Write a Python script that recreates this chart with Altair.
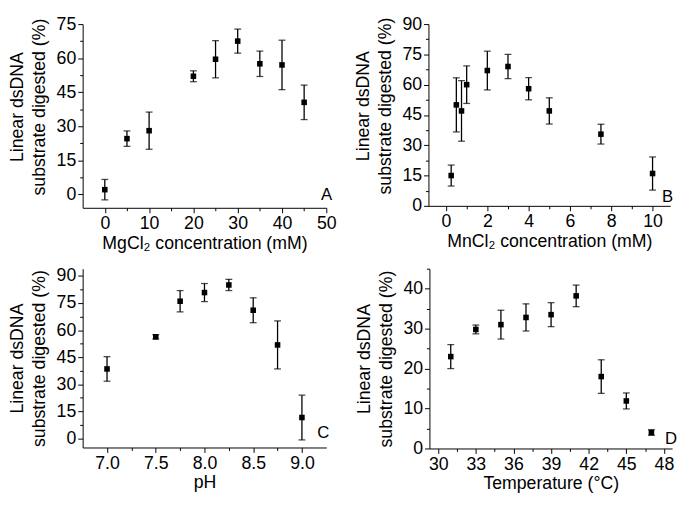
import altair as alt
import pandas as pd

FONT = "Liberation Sans"

# Panel A: MgCl2
a_x = [0, 5, 10, 20, 25, 30, 35, 40, 45]
a_y = [2, 24.5, 28, 52, 59.5, 67.5, 57.5, 57, 40.5]
a_e = [4.5, 3.4, 8.2, 2.4, 8.2, 5.3, 5.6, 10.9, 7.6]

# Panel B: MnCl2
b_x = [0.25, 0.5, 0.75, 1, 2, 3, 4, 5, 7.5, 10]
b_y = [15, 50, 47, 60, 67, 69, 58, 47, 35.5, 16]
b_e = [5.2, 13.4, 15, 9.3, 9.6, 6, 5.5, 6.5, 4.9, 8.2]

# Panel C: pH
c_x = [7.0, 7.5, 7.75, 8.0, 8.25, 8.5, 8.75, 9.0]
c_y = [38.5, 56.3, 76, 80.8, 85, 71, 51.8, 11.6]
c_e = [6.8, 1.2, 5.9, 5, 3.1, 6.9, 13.3, 12.4]

# Panel D: Temperature
d_x = [31, 33, 35, 37, 39, 41, 43, 45, 47]
d_y = [23, 29.8, 31, 32.8, 33.5, 38.2, 18, 11.9, 4]
d_e = [3, 1.1, 3.6, 3.4, 3, 2.7, 4.2, 2, 0.7]

Y_TITLE = ["Linear dsDNA", "substrate digested (%)"]


def panel(xs, ys, es, xdom, ydom, xmaj, xmin, ymaj, ymin, xtitle, letter,
          w, h, lx, ly, xfmt="d", title_y=None):
    df = pd.DataFrame({"x": xs, "y": ys,
                       "lo": [y - e for y, e in zip(ys, es)],
                       "hi": [y + e for y, e in zip(ys, es)]})
    xvals = sorted(xmaj + xmin)
    yvals = sorted(ymaj + ymin)
    xmaj_test = " || ".join(f"abs(datum.value - {v}) < 1e-6" for v in xmaj)
    ymaj_test = " || ".join(f"abs(datum.value - {v}) < 1e-6" for v in ymaj)
    xaxis = alt.Axis(values=xvals, format=xfmt, title=xtitle,
                     labelExpr=f"({xmaj_test}) ? datum.label : ''",
                     tickSize={"condition": {"test": xmaj_test, "value": 5}, "value": 3},
                     labelOverlap=False, labelFlush=False, titlePadding=2)
    ykw = {}
    if title_y is not None:
        ykw["titleY"] = title_y
    yaxis = alt.Axis(values=yvals, format="d", title=Y_TITLE,
                     labelExpr=f"({ymaj_test}) ? datum.label : ''",
                     tickSize={"condition": {"test": ymaj_test, "value": 5}, "value": 3},
                     labelOverlap=False, labelFlush=False, titlePadding=8, **ykw)
    xs_ = alt.Scale(domain=xdom, nice=False, zero=False)
    ys_ = alt.Scale(domain=ydom, nice=False, zero=False)

    def X():
        return alt.X("x:Q", scale=xs_, axis=xaxis)

    def Y(f):
        return alt.Y(f"{f}:Q", scale=ys_, axis=yaxis)

    base = alt.Chart(df)
    pts = base.mark_square(color="black", size=32, opacity=1, filled=True).encode(x=X(), y=Y("y"))
    rule = base.mark_rule(color="black", strokeWidth=1.3).encode(
        x=X(), y=Y("lo"), y2="hi:Q")
    cap_lo = base.mark_tick(color="black", orient="horizontal", size=7, thickness=1.3).encode(
        x=X(), y=Y("lo"))
    cap_hi = base.mark_tick(color="black", orient="horizontal", size=7, thickness=1.3).encode(
        x=X(), y=Y("hi"))
    lab = alt.Chart(pd.DataFrame({"t": [letter]})).mark_text(
        font=FONT, fontSize=17, align="right", baseline="alphabetic", color="black"
    ).encode(text="t:N", x=alt.value(w + lx), y=alt.value(h - ly))
    return alt.layer(pts, rule, cap_lo, cap_hi, lab).properties(width=w, height=h)


A = panel(a_x, a_y, a_e, [-5, 50], [-6, 75], [0, 10, 20, 30, 40, 50], [5, 15, 25, 35, 45],
          [0, 15, 30, 45, 60, 75], [7.5, 22.5, 37.5, 52.5, 67.5],
          "MgCl₂ concentration (mM)", "A", 248, 187, 6, 8, title_y=84)
B = panel(b_x, b_y, b_e, [-0.85, 10.85], [0, 90], [0, 2, 4, 6, 8, 10], [1, 3, 5, 7, 9],
          [0, 15, 30, 45, 60, 75, 90], [7.5, 22.5, 37.5, 52.5, 67.5, 82.5],
          "MnCl₂ concentration (mM)", "B", 246, 185, 3, 4, title_y=83)
C = panel(c_x, c_y, c_e, [6.75, 9.25], [-5, 94], [7.0, 7.5, 8.0, 8.5, 9.0], [7.25, 7.75, 8.25, 8.75],
          [0, 15, 30, 45, 60, 75, 90], [7.5, 22.5, 37.5, 52.5, 67.5, 82.5],
          "pH", "C", 248, 182, 3, 10, xfmt=".1f")
D = panel(d_x, d_y, d_e, [29.3, 48.65], [0, 45], [30, 33, 36, 39, 42, 45, 48],
          [31.5, 34.5, 37.5, 40.5, 43.5, 46.5],
          [0, 10, 20, 30, 40], [5, 15, 25, 35, 45],
          "Temperature (°C)", "D", 247, 183, 5, 5)

chart = alt.vconcat(
    alt.hconcat(A, B, spacing=17),
    alt.hconcat(C, D, spacing=26),
    spacing=8,
).configure(
    background="white", padding={"top": 3, "left": 0, "right": 0, "bottom": 0},
    view=alt.ViewConfig(stroke=None),
    axis=alt.AxisConfig(
        grid=False, domainColor="black", tickColor="black", domainWidth=1, tickWidth=1,
        labelFont=FONT, titleFont=FONT, labelFontSize=18, titleFontSize=18,
        titleFontWeight="normal", labelColor="black", titleColor="black",
        labelPadding=2, titleLineHeight=22,
    ),
)

chart.save("out.html", embed_options={"renderer": "svg", "actions": False})
